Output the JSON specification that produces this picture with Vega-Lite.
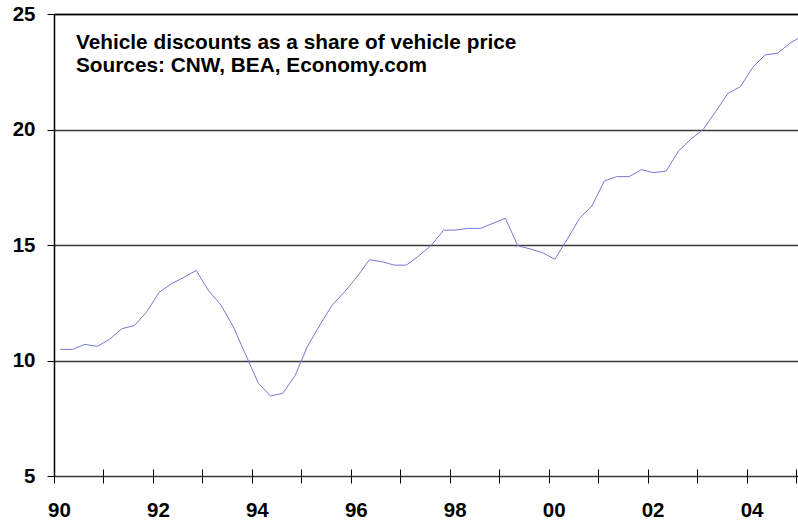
{
  "$schema": "https://vega.github.io/schema/vega-lite/v6.json",
  "width": 744,
  "height": 462,
  "autosize": {"type": "none"},
  "padding": {"left": 54, "top": 14, "right": 0, "bottom": 49},
  "background": "white",
  "config": {"view": {"stroke": null}, "font": "Liberation Sans"},
  "title": {
    "text": ["Vehicle discounts as a share of vehicle price", "Sources: CNW, BEA, Economy.com"],
    "anchor": "start",
    "frame": "group",
    "orient": "top",
    "offset": 0,
    "dx": 22,
    "dy": 73,
    "baseline": "top",
    "fontSize": 20.8,
    "fontWeight": "bold",
    "lineHeight": 23,
    "color": "black",
    "font": "Liberation Sans"
  },
  "data": {
    "values": [
      {"t": 1990.125, "v": 10.48}, {"t": 1990.375, "v": 10.48}, {"t": 1990.625, "v": 10.70}, {"t": 1990.875, "v": 10.61},
      {"t": 1991.125, "v": 10.92}, {"t": 1991.375, "v": 11.38}, {"t": 1991.625, "v": 11.51}, {"t": 1991.875, "v": 12.11},
      {"t": 1992.125, "v": 12.95}, {"t": 1992.375, "v": 13.32}, {"t": 1992.625, "v": 13.60}, {"t": 1992.875, "v": 13.90},
      {"t": 1993.125, "v": 13.02}, {"t": 1993.375, "v": 12.40}, {"t": 1993.625, "v": 11.46}, {"t": 1993.875, "v": 10.25},
      {"t": 1994.125, "v": 9.04}, {"t": 1994.375, "v": 8.46}, {"t": 1994.625, "v": 8.58}, {"t": 1994.875, "v": 9.35},
      {"t": 1995.125, "v": 10.62}, {"t": 1995.375, "v": 11.54}, {"t": 1995.625, "v": 12.40}, {"t": 1995.875, "v": 12.98},
      {"t": 1996.125, "v": 13.62}, {"t": 1996.375, "v": 14.36}, {"t": 1996.625, "v": 14.28}, {"t": 1996.875, "v": 14.13},
      {"t": 1997.125, "v": 14.13}, {"t": 1997.375, "v": 14.53}, {"t": 1997.625, "v": 14.98}, {"t": 1997.875, "v": 15.64},
      {"t": 1998.125, "v": 15.65}, {"t": 1998.375, "v": 15.72}, {"t": 1998.625, "v": 15.72}, {"t": 1998.875, "v": 15.94},
      {"t": 1999.125, "v": 16.16}, {"t": 1999.375, "v": 14.97}, {"t": 1999.625, "v": 14.83}, {"t": 1999.875, "v": 14.67},
      {"t": 2000.125, "v": 14.38}, {"t": 2000.375, "v": 15.25}, {"t": 2000.625, "v": 16.16}, {"t": 2000.875, "v": 16.69},
      {"t": 2001.125, "v": 17.77}, {"t": 2001.375, "v": 17.96}, {"t": 2001.625, "v": 17.96}, {"t": 2001.875, "v": 18.26},
      {"t": 2002.125, "v": 18.13}, {"t": 2002.375, "v": 18.20}, {"t": 2002.625, "v": 19.07}, {"t": 2002.875, "v": 19.58},
      {"t": 2003.125, "v": 20.01}, {"t": 2003.375, "v": 20.77}, {"t": 2003.625, "v": 21.57}, {"t": 2003.875, "v": 21.85},
      {"t": 2004.125, "v": 22.69}, {"t": 2004.375, "v": 23.23}, {"t": 2004.625, "v": 23.30}, {"t": 2004.875, "v": 23.73},
      {"t": 2005.125, "v": 24.05}
    ]
  },
  "layer": [
    {
      "mark": {"type": "line", "color": "#7878d4", "strokeWidth": 1, "clip": true},
      "encoding": {
        "x": {
          "field": "t", "type": "quantitative",
          "scale": {"domain": [1990, 2005.04], "zero": false, "nice": false},
          "axis": {
            "title": null,
            "values": [1990, 1991, 1992, 1993, 1994, 1995, 1996, 1997, 1998, 1999, 2000, 2001, 2002, 2003, 2004, 2005],
            "labelExpr": "datum.value % 2 == 0 && datum.value < 2005 ? slice(toString(datum.value), 2) : ''",
            "offset": -7,
            "tickSize": 14,
            "tickColor": "black",
            "tickWidth": 1,
            "domain": false,
            "grid": false,
            "labelFontSize": 20.5,
            "labelFontWeight": "bold",
            "labelColor": "black",
            "labelFont": "Liberation Sans",
            "labelPadding": 17,
            "labelOffset": 5,
            "labelFlush": false,
            "labelOverlap": false,
            "labelBaseline": "top"
          }
        },
        "y": {
          "field": "v", "type": "quantitative",
          "scale": {"domain": [5, 25], "zero": false, "nice": false},
          "axis": {
            "title": null,
            "values": [5, 10, 15, 20, 25],
            "tickSize": 7,
            "tickColor": "black",
            "domainColor": "black",
            "domainWidth": 1.5,
            "grid": true,
            "gridColor": "#3a3a3a",
            "gridWidth": 1.5,
            "labelFontSize": 20.5,
            "labelFontWeight": "bold",
            "labelColor": "black",
            "labelFont": "Liberation Sans",
            "labelPadding": 12,
            "labelFlush": false,
            "labelOverlap": false
          }
        }
      }
    },
    {
      "mark": {"type": "line", "opacity": 0},
      "encoding": {
        "x": {
          "field": "t", "type": "quantitative",
          "axis": {"title": null, "domain": true, "domainColor": "black", "domainWidth": 1.5, "ticks": false, "labels": false, "grid": false}
        },
        "y": {"field": "v", "type": "quantitative"}
      }
    }
  ],
  "resolve": {"axis": {"x": "independent"}}
}
